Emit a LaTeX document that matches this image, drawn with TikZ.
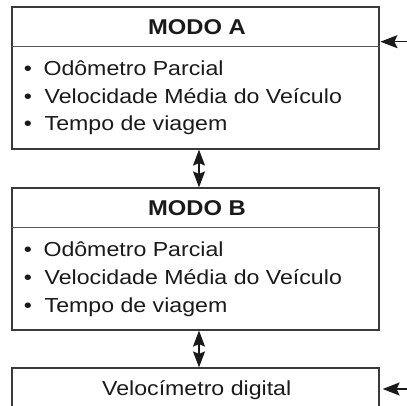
\documentclass[tikz,border=0pt]{standalone}
\usepackage{fontspec}
\setmainfont{Liberation Sans}[FakeStretch=1.14]
\newfontfamily\hdfont{Liberation Sans}[FakeStretch=1.11]
\usetikzlibrary{arrows.meta}
\definecolor{ink}{HTML}{1A1A1A}
\definecolor{rule}{HTML}{3A3A3A}
\tikzset{
  box/.style={draw=rule, line width=1.2pt, rectangle, inner sep=0pt},
  divline/.style={draw=rule!85, line width=1.2pt},
  body/.style={anchor=base west, inner sep=0pt, text=ink, font=\fontsize{20.3}{24}\selectfont},
  bul/.style={anchor=base, inner sep=0pt, text=ink, font=\fontsize{20.3}{24}\selectfont},
  head/.style={anchor=base, inner sep=0pt, text=ink, font=\hdfont\bfseries\fontsize{21.4}{26}\selectfont},
  conn/.style={draw=ink, line width=1.2pt, {Stealth[length=16pt,width=12pt,inset=2.5pt]}-{Stealth[length=16pt,width=12pt,inset=2.5pt]}},
  inarrow/.style={draw=ink, line width=1.2pt, -{Stealth[length=17pt,width=13pt,inset=3pt]}}
}
\begin{document}
\begin{tikzpicture}[x=1pt,y=1pt]
\useasboundingbox (0,0) rectangle (407,-406);
\clip (0,0) rectangle (407,-406);
% Box A
\node[box, minimum width=367pt, minimum height=142pt] (A) at (195.5,-78) {};
\coordinate (dA) at (0,-46.7);
\draw[divline] (A.west |- dA) -- (A.east |- dA);
\node[head] (hA) at (197,-34.7) {MODO A};
\node[bul] (bA1) at (28,-75.7) {•};
\node[body] (tA1) at (43.3,-75.7) {Odômetro Parcial};
\node[bul] (bA2) at (28,-103.4) {•};
\node[body] (tA2) at (44.5,-103.4) {Velocidade Média do Veículo};
\node[bul] (bA3) at (28,-131) {•};
\node[body] (tA3) at (44.5,-131) {Tempo de viagem};
% Box B
\node[box, minimum width=367pt, minimum height=142pt] (B) at (195.5,-259) {};
\coordinate (dB) at (0,-227.7);
\draw[divline] (B.west |- dB) -- (B.east |- dB);
\node[head] (hB) at (197,-215.7) {MODO B};
\node[bul] (bB1) at (28,-256.7) {•};
\node[body] (tB1) at (43.3,-256.7) {Odômetro Parcial};
\node[bul] (bB2) at (28,-284.4) {•};
\node[body] (tB2) at (44.5,-284.4) {Velocidade Média do Veículo};
\node[bul] (bB3) at (28,-312) {•};
\node[body] (tB3) at (44.5,-312) {Tempo de viagem};
% Box C
\node[box, minimum width=367pt, minimum height=60pt] (C) at (195.5,-398) {};
\node[bul] (tC) at (196.7,-395.3) {Velocímetro digital};
% connectors
\draw[conn] ([xshift=3.5pt]A.south) -- ([xshift=3.5pt]B.north);
\draw[conn] ([xshift=3.5pt]B.south) -- ([xshift=3.5pt]C.north);
\coordinate (inA) at (407,-41.7);
\coordinate (inC) at (407,-389);
\draw[inarrow] (inA) -- ([xshift=0.8pt]A.east |- inA);
\draw[inarrow] (inC) -- ([xshift=3pt]C.east |- inC);
\end{tikzpicture}
\end{document}
